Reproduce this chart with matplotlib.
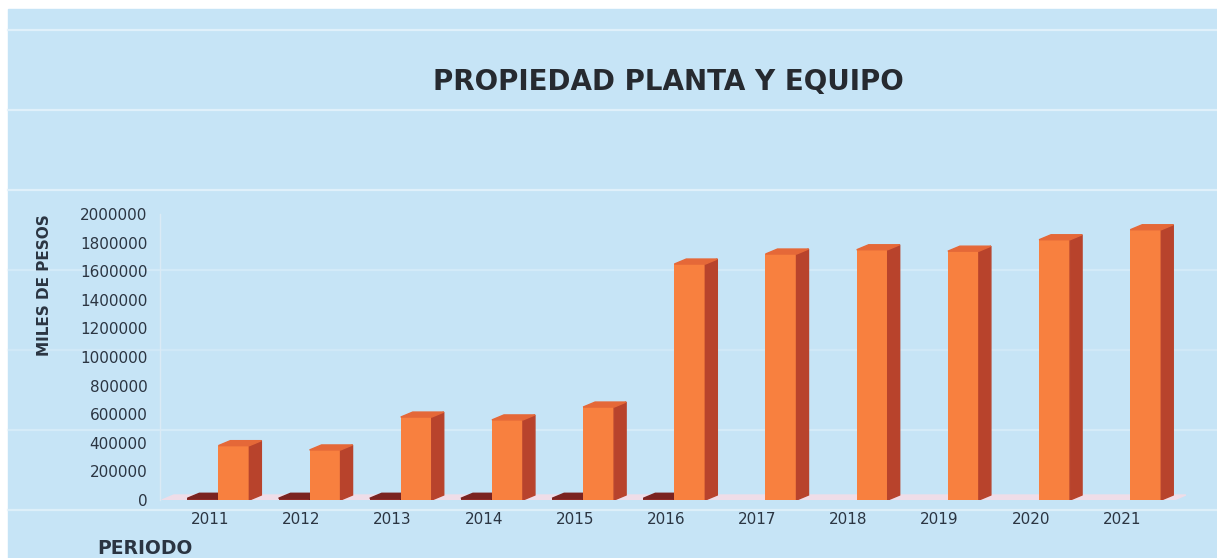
import numpy as np
import matplotlib
matplotlib.use("Agg")
import matplotlib.pyplot as plt
from matplotlib import patches as pat
from matplotlib.lines import Line2D

years=["2011","2012","2013","2014","2015","2016","2017","2018","2019","2020","2021"]
serie_baja=[12000,12000,12000,12000,12000,12000,0,0,0,0,0]
serie_ppe=[380000,350000,580000,560000,650000,1650000,1720000,1750000,1740000,1820000,1890000]
yticks=list(range(0,2000001,200000))

W,H=1217,558
bg="#c6e4f6"
txt="#2b3542"

fig=plt.figure(figsize=(W/100,H/100),dpi=100)
fig.patch.set_facecolor("white")
fig.add_artist(pat.Rectangle((8/W,0),1,1-9/H,transform=fig.transFigure,color=bg,zorder=0))

# scan lines of the original picture (behind the axes)
for yp,a in [(30,0.9),(110,0.9),(190,0.9),(270,0.45),(350,0.35),(430,0.5),(510,0.8)]:
    fig.add_artist(Line2D([8/W,1],[1-yp/H,1-yp/H],transform=fig.transFigure,color="#e4f2fb",lw=1.6,alpha=a,zorder=0.5))

ax=fig.add_axes([160/W,58/H,1035/W,286/H])
ax.set_zorder(2)
ax.set_facecolor("none")
xl,xr=-0.55,10.8
ax.set_xlim(xl,xr)
ax.set_ylim(0,2000000)

dx=12/(1035/(xr-xl))
dy=5*2000000/286

# floor
floor=pat.Polygon([(xl+0.02,0),(xr-dx-0.1,0),(xr-0.1,dy),(xl+0.02+dx,dy)],closed=True,color="#efdde8",zorder=1)
ax.add_patch(floor)

def bar3d(x0,w,h,front,side,top):
    if h<=0:
        return
    ax.bar(x0,h,width=w,align="edge",color=front,zorder=3)
    ax.add_patch(pat.Polygon([(x0+w,0),(x0+w+dx,dy),(x0+w+dx,h+dy),(x0+w,h)],closed=True,color=side,zorder=3))
    ax.add_patch(pat.Polygon([(x0,h),(x0+dx,h+dy),(x0+w+dx,h+dy),(x0+w,h)],closed=True,color=top,zorder=3))

x=np.arange(len(years))
for i in x:
    bar3d(i-0.25,0.34,serie_baja[i],"#8e2a25","#6e1f1c","#7a2320")
    bar3d(i+0.09,0.34,serie_ppe[i],"#f8803f","#b8432c","#e56838")

ax.set_xticks(x)
ax.set_xticklabels(years)
ax.set_yticks(yticks)
ax.set_yticklabels([str(v) for v in yticks])
ax.tick_params(axis="both",length=0,labelsize=11,colors=txt)
ax.tick_params(axis="y",pad=9)
ax.tick_params(axis="x",pad=9)
for s in ["top","right","bottom"]:
    ax.spines[s].set_visible(False)
ax.spines["left"].set_color("#dbeaf5")
ax.spines["left"].set_linewidth(1)

fig.text(668/W,1-82/H,"PROPIEDAD PLANTA Y EQUIPO",ha="center",va="center",fontsize=20,fontweight="bold",color="#262a30")
fig.text(45/W,1-285/H,"MILES DE PESOS",rotation=90,ha="center",va="center",fontsize=11,fontweight="bold",color=txt)
fig.text(145/W,1-548/H,"PERIODO",ha="center",va="center",fontsize=13.5,fontweight="bold",color=txt)

plt.savefig("out.png",dpi=100)
